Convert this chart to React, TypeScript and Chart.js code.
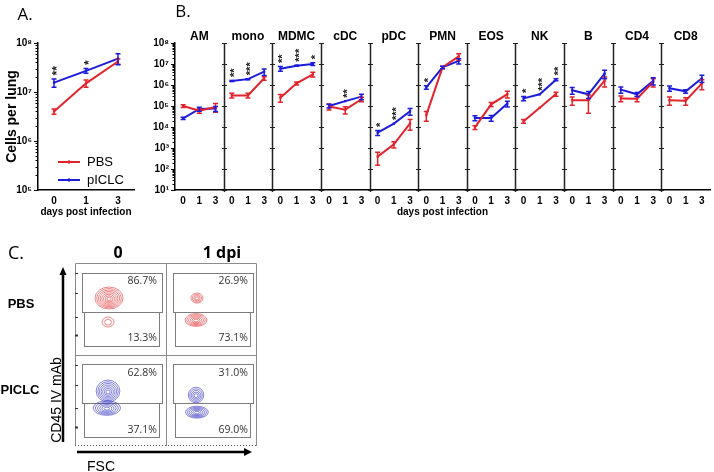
import React, { useEffect, useRef } from 'react';
import { Chart, registerables } from 'chart.js';

Chart.register(...registerables);

const RED = '#e3232b';
const BLUE = '#1c1cdc';
const ARIAL = "'Liberation Sans', Arial, Helvetica, sans-serif";
const OPEN = "'Open Sans', 'Liberation Sans', sans-serif";

const DAYS = ['0', '1', '3'];
const GROUPS = ['PBS', 'pICLC'];
const SUPERSCRIPTS = ['⁰', '¹', '²', '³', '⁴', '⁵', '⁶', '⁷', '⁸', '⁹'];

// ---- Panel A: total cells per lung ----
const TOTAL_PBS = [4.0e6, 1.5e7, 4.2e7];
const TOTAL_PBS_SEM = [0.5e6, 2.5e6, 5.0e6];
const TOTAL_PICLC = [1.55e7, 2.7e7, 4.8e7];
const TOTAL_PICLC_SEM = [3.0e6, 3.0e6, 1.2e7];
const TOTAL_STARS = ['**', '*', ''];
const TOTAL_TICKS = [1e5, 1e6, 1e7, 1e8];

// ---- Panel B: cell subsets ----
const CELL_TYPES = ['AM', 'mono', 'MDMC', 'cDC', 'pDC', 'PMN', 'EOS', 'NK', 'B', 'CD4', 'CD8'];
const PBS_CELLS = [
  [1.0e5, 6.0e4, 9.0e4],
  [3.2e5, 3.2e5, 2.1e6],
  [2.5e5, 1.2e6, 3.2e6],
  [9.5e4, 6.7e4, 2.1e5],
  [3.9e2, 1.5e3, 1.5e4],
  [3.7e4, 6.9e6, 2.3e7],
  [9.6e3, 1.2e5, 3.7e5],
  [1.9e4, 8.3e4, 3.7e5],
  [1.9e5, 1.9e5, 1.6e6],
  [2.3e5, 2.2e5, 1.4e6],
  [1.9e5, 1.8e5, 1.2e6],
];
const PBS_CELLS_SEM = [
  [1.5e4, 1.5e4, 4.0e4],
  [8.0e4, 8.0e4, 4.0e5],
  [1.0e5, 2.0e5, 8.0e5],
  [3.0e4, 2.5e4, 5.0e4],
  [2.4e2, 5.0e2, 8.0e3],
  [1.8e4, 1.0e6, 8.0e6],
  [2.0e3, 2.5e4, 1.3e5],
  [4.0e3, 0, 8.0e4],
  [8.0e4, 1.45e5, 8.0e5],
  [7.0e4, 6.0e4, 6.0e5],
  [8.0e4, 7.0e4, 6.0e5],
];
const PICLC_CELLS = [
  [2.6e4, 7.2e4, 7.5e4],
  [1.55e6, 1.9e6, 4.3e6],
  [6.0e6, 8.3e6, 1.0e7],
  [1.0e5, 1.7e5, 2.8e5],
  [5.4e3, 1.45e4, 5.6e4],
  [7.7e5, 6.9e6, 1.4e7],
  [2.7e4, 2.7e4, 1.3e5],
  [2.3e5, 3.6e5, 1.8e6],
  [5.6e5, 3.6e5, 3.5e6],
  [6.0e5, 3.6e5, 1.6e6],
  [7.0e5, 5.0e5, 2.1e6],
];
const PICLC_CELLS_SEM = [
  [3.0e3, 1.5e4, 2.0e4],
  [1.0e5, 1.0e5, 1.5e6],
  [1.5e6, 5.0e5, 1.5e6],
  [2.0e4, 0, 8.0e4],
  [1.5e3, 0, 2.0e4],
  [1.5e5, 1.0e6, 4.0e6],
  [7.0e3, 8.0e3, 4.0e4],
  [5.0e4, 0, 2.0e5],
  [2.0e5, 1.3e5, 1.5e6],
  [2.0e5, 8.0e4, 6.0e5],
  [2.0e5, 1.0e5, 8.0e5],
];
const CELL_STARS = [
  ['', '', ''],
  ['**', '***', ''],
  ['**', '***', '*'],
  ['', '**', ''],
  ['*', '***', ''],
  ['*', '', ''],
  ['', '', ''],
  ['*', '***', '**'],
  ['', '', ''],
  ['', '', ''],
  ['', '', ''],
];
const CELL_TICKS = [1e1, 1e2, 1e3, 1e4, 1e5, 1e6, 1e7, 1e8];

// ---- Panel C: flow cytometry contour plots ----
const FLOW_COLUMNS = ['0', '1 dpi'];
const FLOW_ROWS = ['PBS', 'PICLC'];
const FLOW_UPPER_PCT = [[86.7, 26.9], [62.8, 31.0]];
const FLOW_LOWER_PCT = [[13.3, 73.1], [37.1, 69.0]];
const GATE_UPPER = [0.077, 0.468, 0.956, 0.895];
const GATE_LOWER = [0.099, 0.095, 0.923, 0.468];
const POP_ROW = [0, 0, 0, 0, 1, 1, 1, 1];
const POP_COL = [0, 0, 1, 1, 0, 0, 1, 1];
const POP_CX = [0.374, 0.363, 0.34, 0.33, 0.363, 0.35, 0.33, 0.34];
const POP_CY = [0.617, 0.355, 0.617, 0.377, 0.6, 0.415, 0.557, 0.37];
const POP_RX = [0.154, 0.066, 0.066, 0.12, 0.13, 0.15, 0.085, 0.125];
const POP_RY = [0.12, 0.055, 0.055, 0.07, 0.12, 0.08, 0.085, 0.065];
const POP_RINGS = [8, 2, 4, 6, 7, 6, 5, 6];
const FLOW_Y_TICKS = [0.89, 0.67, 0.41, 0.21];

const tenPow = (v: any) => {
  const e = Math.round(Math.log10(Number(v)));
  return '10' + SUPERSCRIPTS[e];
};

const valueOf = (raw: any) => (raw && typeof raw === 'object' ? raw.y : raw);

function errorBarPlugin(capHalf: number) {
  return {
    id: 'errorBars',
    afterDatasetsDraw(chart: any) {
      const { ctx } = chart;
      const ys = chart.scales.y;
      chart.data.datasets.forEach((ds: any, di: number) => {
        const meta = chart.getDatasetMeta(di);
        ctx.save();
        ctx.strokeStyle = ds.borderColor;
        ctx.lineWidth = 1.5;
        meta.data.forEach((el: any, i: number) => {
          const v = valueOf(ds.data[i]);
          const e = ds.sem[i];
          if (v == null || e == null || e <= 0) return;
          const x = el.x;
          const yHi = ys.getPixelForValue(v + e);
          const yLo = ys.getPixelForValue(Math.max(v - e, ys.min));
          ctx.beginPath();
          ctx.moveTo(x, yHi);
          ctx.lineTo(x, yLo);
          ctx.moveTo(x - capHalf, yHi);
          ctx.lineTo(x + capHalf, yHi);
          ctx.moveTo(x - capHalf, yLo);
          ctx.lineTo(x + capHalf, yLo);
          ctx.stroke();
        });
        ctx.restore();
      });
    },
  };
}

function starPlugin(labels: string[], fontSize: number) {
  return {
    id: 'stars',
    afterDatasetsDraw(chart: any) {
      const { ctx } = chart;
      const ys = chart.scales.y;
      ctx.save();
      ctx.fillStyle = '#222';
      ctx.font = `bold ${fontSize}px ${ARIAL}`;
      labels.forEach((txt, i) => {
        if (!txt) return;
        let top = -Infinity;
        let x = 0;
        chart.data.datasets.forEach((ds: any, di: number) => {
          const v = valueOf(ds.data[i]);
          if (v == null) return;
          top = Math.max(top, v + (ds.sem[i] || 0));
          x = chart.getDatasetMeta(di).data[i].x;
        });
        const w = ctx.measureText(txt).width;
        const cy = ys.getPixelForValue(top) - 3.5 - w / 2;
        ctx.save();
        ctx.translate(x, cy);
        ctx.rotate(-Math.PI / 2);
        ctx.textAlign = 'center';
        ctx.textBaseline = 'alphabetic';
        ctx.fillText(txt, 0, fontSize * 0.55);
        ctx.restore();
      });
      ctx.restore();
    },
  };
}

const minorTickPlugin = {
  id: 'minorTicks',
  afterDraw(chart: any) {
    const ys = chart.scales.y;
    const { ctx } = chart;
    const x = chart.chartArea.left;
    ctx.save();
    ctx.strokeStyle = '#000';
    ctx.lineWidth = 1;
    const d0 = Math.round(Math.log10(ys.min));
    const d1 = Math.round(Math.log10(ys.max));
    for (let d = d0; d < d1; d++) {
      for (let m = 2; m <= 9; m++) {
        const y = Math.round(ys.getPixelForValue(m * Math.pow(10, d))) + 0.5;
        ctx.beginPath();
        ctx.moveTo(x - 2.5, y);
        ctx.lineTo(x, y);
        ctx.stroke();
      }
    }
    ctx.restore();
  },
};

const legendAPlugin = {
  id: 'legendA',
  afterDraw(chart: any) {
    const { ctx, chartArea: ca } = chart;
    ctx.save();
    chart.data.datasets.forEach((ds: any, i: number) => {
      const y = ca.bottom - 28 + i * 18;
      const x0 = ca.left + 20;
      const x1 = ca.left + 42;
      ctx.strokeStyle = ds.borderColor;
      ctx.lineWidth = 2;
      ctx.beginPath();
      ctx.moveTo(x0, y);
      ctx.lineTo(x1, y);
      ctx.stroke();
      ctx.lineWidth = 1.2;
      ctx.beginPath();
      ctx.moveTo((x0 + x1) / 2, y - 2);
      ctx.lineTo((x0 + x1) / 2, y + 2);
      ctx.stroke();
      ctx.fillStyle = '#000';
      ctx.font = `13px ${ARIAL}`;
      ctx.textAlign = 'left';
      ctx.textBaseline = 'middle';
      ctx.fillText(ds.label, x1 + 7, y + 0.5);
    });
    ctx.restore();
  },
};

const panelPlugin = {
  id: 'panels',
  afterDraw(chart: any) {
    const { ctx, chartArea: ca } = chart;
    const xs = chart.scales.x;
    const ys = chart.scales.y;
    ctx.save();
    for (let p = 1; p < CELL_TYPES.length; p++) {
      const x = Math.round(xs.getPixelForValue(p * 3)) + 0.5;
      ctx.strokeStyle = '#222';
      ctx.lineWidth = 1.5;
      ctx.beginPath();
      ctx.moveTo(x, ca.top);
      ctx.lineTo(x, ca.bottom + 2);
      ctx.stroke();
      ctx.lineWidth = 1;
      ys.ticks.forEach((t: any) => {
        const y = Math.round(ys.getPixelForValue(t.value)) + 0.5;
        ctx.beginPath();
        ctx.moveTo(x - 2.5, y);
        ctx.lineTo(x + 2.5, y);
        ctx.stroke();
      });
    }
    ctx.fillStyle = '#000';
    ctx.font = `bold 12px ${ARIAL}`;
    ctx.textAlign = 'center';
    ctx.textBaseline = 'middle';
    CELL_TYPES.forEach((name, p) => {
      ctx.fillText(name, xs.getPixelForValue(p * 3 + 1.5), ca.top - 6);
    });
    ctx.restore();
  },
};

const flowPlugin = {
  id: 'flow',
  afterDraw(chart: any) {
    const { ctx, chartArea: ca } = chart;
    const xs = chart.scales.x;
    const ys = chart.scales.y;
    const px = (v: number) => xs.getPixelForValue(v);
    const py = (v: number) => ys.getPixelForValue(v);
    const nRows = FLOW_ROWS.length;
    ctx.save();
    ctx.strokeStyle = '#8c8c8c';
    ctx.lineWidth = 1;
    ctx.beginPath();
    ctx.moveTo(ca.left + 0.5, ca.bottom);
    ctx.lineTo(ca.left + 0.5, ca.top + 0.5);
    ctx.lineTo(ca.right - 0.5, ca.top + 0.5);
    ctx.lineTo(ca.right - 0.5, ca.bottom);
    const mx = Math.round(px(1)) + 0.5;
    const my = Math.round(py(1)) + 0.5;
    ctx.moveTo(mx, ca.top);
    ctx.lineTo(mx, ca.bottom);
    ctx.moveTo(ca.left, my);
    ctx.lineTo(ca.right, my);
    ctx.stroke();
    ctx.save();
    ctx.strokeStyle = '#555';
    ctx.setLineDash([1, 2]);
    ctx.beginPath();
    ctx.moveTo(ca.left, ca.bottom - 0.5);
    ctx.lineTo(ca.right, ca.bottom - 0.5);
    ctx.stroke();
    ctx.restore();
    ctx.strokeStyle = '#333';
    for (let r = 0; r < nRows; r++) {
      const base = nRows - 1 - r;
      FLOW_Y_TICKS.forEach((t, k) => {
        const y = Math.round(py(base + t)) + 0.5;
        ctx.lineWidth = k === FLOW_Y_TICKS.length - 1 ? 2 : 1;
        ctx.beginPath();
        ctx.moveTo(ca.left, y);
        ctx.lineTo(ca.left + 3, y);
        ctx.stroke();
      });
    }
    for (let r = 0; r < nRows; r++) {
      const base = nRows - 1 - r;
      for (let c = 0; c < FLOW_COLUMNS.length; c++) {
        ctx.strokeStyle = '#7d7d7d';
        ctx.lineWidth = 1;
        [GATE_UPPER, GATE_LOWER].forEach((g) => {
          const x0 = Math.round(px(c + g[0])) + 0.5;
          const x1 = Math.round(px(c + g[2])) + 0.5;
          const y0 = Math.round(py(base + g[3])) + 0.5;
          const y1 = Math.round(py(base + g[1])) + 0.5;
          ctx.strokeRect(x0, y0, x1 - x0, y1 - y0);
        });
        ctx.fillStyle = '#333';
        ctx.font = `10.5px ${OPEN}`;
        ctx.textAlign = 'right';
        ctx.textBaseline = 'middle';
        ctx.fillText(`${FLOW_UPPER_PCT[r][c].toFixed(1)}%`, px(c + 0.9), py(base + 0.8));
        ctx.fillText(`${FLOW_LOWER_PCT[r][c].toFixed(1)}%`, px(c + 0.9), py(base + 0.18));
      }
    }
    POP_ROW.forEach((r, i) => {
      const base = nRows - 1 - r;
      const c = POP_COL[i];
      const cxp = px(c + POP_CX[i]);
      const cyp = py(base + POP_CY[i]);
      const rxp = px(c + POP_CX[i] + POP_RX[i]) - cxp;
      const ryp = cyp - py(base + POP_CY[i] + POP_RY[i]);
      const n = POP_RINGS[i];
      ctx.strokeStyle = r === 0 ? 'rgba(226,56,56,0.85)' : 'rgba(50,50,190,0.85)';
      ctx.lineWidth = 0.7;
      for (let k = 1; k <= n; k++) {
        const f = (k + 0.3) / (n + 0.3);
        ctx.beginPath();
        ctx.ellipse(cxp, cyp + (1 - f) * ryp * 0.1, rxp * f, ryp * f, 0, 0, Math.PI * 2);
        ctx.stroke();
      }
    });
    ctx.strokeStyle = '#000';
    ctx.fillStyle = '#000';
    ctx.lineWidth = 2.5;
    const ax = ca.left - 12;
    ctx.beginPath();
    ctx.moveTo(ax, ca.bottom - 4);
    ctx.lineTo(ax, ca.top + 11);
    ctx.stroke();
    ctx.beginPath();
    ctx.moveTo(ax, ca.top + 4);
    ctx.lineTo(ax - 3.5, ca.top + 12);
    ctx.lineTo(ax + 3.5, ca.top + 12);
    ctx.closePath();
    ctx.fill();
    const ay = ca.bottom + 6;
    ctx.beginPath();
    ctx.moveTo(ca.left + 2, ay);
    ctx.lineTo(ca.right - 12, ay);
    ctx.stroke();
    ctx.beginPath();
    ctx.moveTo(ca.right - 5, ay);
    ctx.lineTo(ca.right - 13, ay - 4);
    ctx.lineTo(ca.right - 13, ay + 4);
    ctx.closePath();
    ctx.fill();
    ctx.restore();
  },
};

const tickFont = { family: ARIAL, size: 10, weight: 'bold' as const };
const titleFont = { family: ARIAL, size: 10, weight: 'bold' as const };

function logAxis(ticks: number[], width: number, title?: string) {
  return {
    type: 'logarithmic',
    min: ticks[0],
    max: ticks[ticks.length - 1],
    afterBuildTicks: (s: any) => {
      s.ticks = ticks.map((v) => ({ value: v, major: true }));
    },
    afterFit: (s: any) => {
      s.width = width;
    },
    ticks: { callback: tenPow, font: tickFont, color: '#000', padding: 2, autoSkip: false },
    grid: { drawOnChartArea: false, drawTicks: true, tickLength: 4, color: '#000', lineWidth: 1 },
    border: { display: true, color: '#000', width: 1.5 },
    title: title
      ? { display: true, text: title, font: { family: ARIAL, size: 14, weight: 'bold' }, color: '#000', padding: { top: 4, bottom: 0 } }
      : { display: false },
  };
}

function lineDataset(label: string, color: string, data: any[], sem: any[]) {
  return {
    label,
    data,
    sem,
    borderColor: color,
    backgroundColor: color,
    borderWidth: 2,
    pointRadius: 1.6,
    pointStyle: 'rect',
    pointBorderWidth: 0,
    tension: 0,
    spanGaps: false,
  };
}

function flatten(vals: number[][], sems: number[][]) {
  const pts: any[] = [];
  const errs: any[] = [];
  vals.forEach((row, p) => {
    row.forEach((v, j) => {
      pts.push({ x: p * 3 + j + 0.5, y: v });
      errs.push(sems[p][j]);
    });
    pts.push({ x: p * 3 + 3, y: null });
    errs.push(null);
  });
  return { pts, errs };
}

function Label(props: { x: number; y: number; text: string; font: string; rotate?: number; color?: string }) {
  const { x, y, text, font, rotate = 0, color = '#000' } = props;
  return (
    <div
      style={{
        position: 'absolute',
        left: x,
        top: y,
        transform: `translate(-50%, -50%) rotate(${rotate}deg)`,
        font,
        lineHeight: 1,
        whiteSpace: 'nowrap',
        color,
      }}
    >
      {text}
    </div>
  );
}

export default function App() {
  const aRef = useRef<HTMLCanvasElement>(null);
  const bRef = useRef<HTMLCanvasElement>(null);
  const cRef = useRef<HTMLCanvasElement>(null);

  useEffect(() => {
    const charts: Chart[] = [];

    charts.push(
      new Chart(aRef.current as HTMLCanvasElement, {
        type: 'line',
        data: {
          labels: DAYS,
          datasets: [
            lineDataset(GROUPS[0], RED, TOTAL_PBS, TOTAL_PBS_SEM),
            lineDataset(GROUPS[1], BLUE, TOTAL_PICLC, TOTAL_PICLC_SEM),
          ] as any,
        },
        options: {
          animation: false,
          responsive: false,
          layout: { padding: { left: 0, right: 6, top: 43, bottom: 0 } },
          plugins: { legend: { display: false }, tooltip: { enabled: false } },
          scales: {
            x: {
              type: 'category',
              offset: true,
              afterFit: (s: any) => {
                s.height = 32;
              },
              ticks: { font: tickFont, color: '#000', padding: 5, maxRotation: 0, autoSkip: false },
              grid: { display: false, drawTicks: false },
              border: { display: true, color: '#000', width: 1.5 },
              title: { display: true, text: 'days post infection', font: titleFont, color: '#000', padding: { top: 0, bottom: 4 } },
            },
            y: logAxis(TOTAL_TICKS, 38, 'Cells per lung'),
          } as any,
        },
        plugins: [errorBarPlugin(2.5), starPlugin(TOTAL_STARS, 12), minorTickPlugin, legendAPlugin],
      })
    );

    const pbs = flatten(PBS_CELLS, PBS_CELLS_SEM);
    const pic = flatten(PICLC_CELLS, PICLC_CELLS_SEM);
    const starLabels: string[] = [];
    CELL_STARS.forEach((row) => {
      row.forEach((s) => starLabels.push(s));
      starLabels.push('');
    });
    charts.push(
      new Chart(bRef.current as HTMLCanvasElement, {
        type: 'line',
        data: {
          datasets: [
            lineDataset(GROUPS[0], RED, pbs.pts, pbs.errs),
            lineDataset(GROUPS[1], BLUE, pic.pts, pic.errs),
          ] as any,
        },
        options: {
          animation: false,
          responsive: false,
          layout: { padding: { left: 0, right: 2, top: 43, bottom: 0 } },
          plugins: { legend: { display: false }, tooltip: { enabled: false } },
          scales: {
            x: {
              type: 'linear',
              min: 0,
              max: CELL_TYPES.length * 3,
              afterBuildTicks: (s: any) => {
                s.ticks = CELL_TYPES.flatMap((_, p) => DAYS.map((__, j) => ({ value: p * 3 + j + 0.5 })));
              },
              afterFit: (s: any) => {
                s.height = 32;
              },
              ticks: {
                autoSkip: false,
                maxRotation: 0,
                padding: 5,
                font: tickFont,
                color: '#000',
                callback: (v: any) => DAYS[Math.floor(Number(v) % 3)],
              },
              grid: { display: false, drawTicks: false },
              border: { display: true, color: '#000', width: 1.5 },
              title: { display: true, text: 'days post infection', font: titleFont, color: '#000', padding: { top: 0, bottom: 4 } },
            },
            y: logAxis(CELL_TICKS, 35),
          } as any,
        },
        plugins: [panelPlugin, errorBarPlugin(2.5), starPlugin(starLabels, 11), minorTickPlugin],
      })
    );

    charts.push(
      new Chart(cRef.current as HTMLCanvasElement, {
        type: 'scatter',
        data: { datasets: [] },
        options: {
          animation: false,
          responsive: false,
          layout: { padding: { left: 75, right: 13, top: 23, bottom: 26 } },
          plugins: { legend: { display: false }, tooltip: { enabled: false } },
          scales: {
            x: { type: 'linear', min: 0, max: FLOW_COLUMNS.length, display: false },
            y: { type: 'linear', min: 0, max: FLOW_ROWS.length, display: false },
          },
        },
        plugins: [flowPlugin],
      })
    );

    return () => charts.forEach((c) => c.destroy());
  }, []);

  return (
    <div style={{ position: 'relative', width: 714, height: 472, overflow: 'hidden', background: '#fff' }}>
      <style>{'body{margin:0;background:#fff;}'}</style>
      <canvas ref={aRef} width={140} height={222} style={{ position: 'absolute', left: 0, top: 0 }} />
      <canvas ref={bRef} width={574} height={222} style={{ position: 'absolute', left: 140, top: 0 }} />
      <canvas ref={cRef} width={270} height={232} style={{ position: 'absolute', left: 0, top: 240 }} />
      <Label x={25} y={13} text="A." font={`17px ${OPEN}`} />
      <Label x={183} y={10} text="B." font={`17px ${OPEN}`} />
      <Label x={16} y={252} text="C." font={`18px ${OPEN}`} />
      <Label x={118} y={252} text={FLOW_COLUMNS[0]} font={`bold 16px ${OPEN}`} />
      <Label x={222} y={252} text={FLOW_COLUMNS[1]} font={`bold 16px ${OPEN}`} />
      <Label x={21} y={303} text={FLOW_ROWS[0]} font={`bold 13px ${ARIAL}`} />
      <Label x={20} y={389} text={FLOW_ROWS[1]} font={`bold 13px ${ARIAL}`} />
      <Label x={56} y={400} text="CD45 IV mAb" font={`14px ${ARIAL}`} rotate={-90} />
      <Label x={101} y={466} text="FSC" font={`14px ${ARIAL}`} />
    </div>
  );
}
